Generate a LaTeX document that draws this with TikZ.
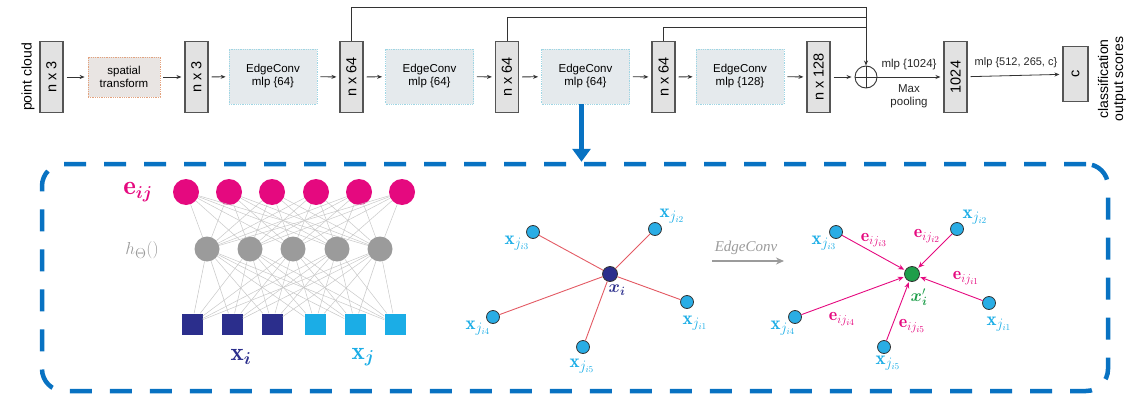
\documentclass[tikz,border=0pt]{standalone}
\usepackage{fontspec}
\setsansfont{Liberation Sans}
\newfontfamily\timesf{Liberation Serif}
\usepackage{graphicx}
\usepackage{bm}
\usetikzlibrary{arrows.meta}

\definecolor{tensorfill}{HTML}{E2E2E2}
\definecolor{tensorline}{HTML}{555555}
\definecolor{ecfill}{HTML}{E5EAED}
\definecolor{ecline}{HTML}{9FD6E4}
\definecolor{stfill}{HTML}{E9E5E3}
\definecolor{stline}{HTML}{E3A27E}
\definecolor{arrowgray}{HTML}{333333}
\definecolor{dashblue}{HTML}{0872C2}
\definecolor{epink}{HTML}{E5097F}
\definecolor{hgray}{HTML}{9B9B9B}
\definecolor{navy}{HTML}{2B2E8C}
\definecolor{cyanx}{HTML}{1BADE6}
\definecolor{nodecyan}{HTML}{2AADE5}
\definecolor{edgered}{HTML}{E35A64}
\definecolor{greenx}{HTML}{1E9E4A}
\definecolor{nnline}{HTML}{C8C8C8}

\begin{document}
\begin{tikzpicture}[x=1pt,y=-1pt,
  sans/.style={font=\sffamily\fontsize{11.5}{13}\selectfont},
  tensor/.style={font=\sffamily\fontsize{14.5}{15}\selectfont, draw=tensorline, fill=tensorfill, line width=1.1pt,
    minimum width=23pt, minimum height=71pt, inner sep=0pt},
  edgebox/.style={sans, draw=ecline, densely dotted, fill=ecfill, line width=0.8pt,
    minimum width=88pt, minimum height=55pt, align=center, inner sep=0pt},
  stbox/.style={sans, draw=stline, densely dotted, fill=stfill, line width=0.8pt,
    minimum width=72pt, minimum height=40pt, align=center, inner sep=0pt},
  arr/.style={-{Stealth[length=5pt,width=4pt]}, draw=arrowgray, line width=0.8pt,
    shorten <=3pt, shorten >=3pt},
  skip/.style={draw=arrowgray, line width=0.8pt},
  lbl/.style={sans, text=black!85},
  frame/.style={draw=dashblue, line width=4.5pt, dash pattern=on 22pt off 18pt,
    rounded corners=22pt, minimum width=1066pt, minimum height=227pt, inner sep=0pt},
  bluearr/.style={draw=dashblue, line width=5pt, -{Triangle[length=13pt,width=18pt]}},
  pinknode/.style={circle, fill=epink, minimum size=26pt, inner sep=0pt},
  graynode/.style={circle, fill=hgray, minimum size=25pt, inner sep=0pt},
  sq/.style={minimum size=21pt, inner sep=0pt},
  nnedge/.style={draw=nnline, line width=0.5pt},
  nbr/.style={circle, fill=nodecyan, draw=black!80, line width=0.8pt, minimum size=13pt, inner sep=0pt},
  ctr/.style={circle, draw=black!80, line width=0.8pt, minimum size=15pt, inner sep=0pt},
  rededge/.style={draw=edgered, line width=0.9pt},
  magarr/.style={draw=epink, line width=0.9pt, -{Stealth[length=6pt,width=5pt]}, shorten >=1pt},
  xlab/.style={text=cyanx, font=\fontsize{19}{19}\selectfont, inner sep=0pt},
  elab/.style={text=epink, font=\fontsize{18}{18}\selectfont, inner sep=0pt}
]
\useasboundingbox (0,0) rectangle (1129,396);

% ---------------- top pipeline ----------------
\node[font=\sffamily\fontsize{14}{15}\selectfont, rotate=90] (pclabel) at (28,77) {point cloud};
\node[tensor] (p3) at (51.5,77) {\rotatebox{90}{n x 3}};
\node[stbox] (st) at (124,77) {spatial\\transform};
\node[tensor] (t3) at (196.5,77) {\rotatebox{90}{n x 3}};
\node[edgebox] (ec1) at (273,76.5) {EdgeConv\\mlp \{64\}};
\node[tensor] (f1) at (351.5,77) {\rotatebox{90}{n x 64}};
\node[edgebox] (ec2) at (429.5,76.5) {EdgeConv\\mlp \{64\}};
\node[tensor] (f2) at (507,77) {\rotatebox{90}{n x 64}};
\node[edgebox] (ec3) at (585.5,76.5) {EdgeConv\\mlp \{64\}};
\node[tensor] (f3) at (663.5,77) {\rotatebox{90}{n x 64}};
\node[edgebox] (ec4) at (740,76.5) {EdgeConv\\mlp \{128\}};
\node[tensor] (f4) at (818.5,77) {\rotatebox{90}{n x 128}};
\node[circle, draw=arrowgray, line width=0.9pt, minimum size=22pt, inner sep=0pt] (sum) at (866,77) {};
\draw[skip] (sum.north) -- (sum.south);
\draw[skip] (sum.west) -- (sum.east);
\node[tensor] (g) at (955.5,77) {\rotatebox{90}{1024}};
\node[tensor, minimum width=25pt, minimum height=55pt] (out) at (1075.5,74) {\rotatebox{90}{c}};
\node[font=\sffamily\fontsize{14}{15}\selectfont, rotate=90, align=center] (cls) at (1112,79) {classification\\output scores};

\draw[arr] (p3) -- (st);
\draw[arr] (st) -- (t3);
\draw[arr] (t3) -- (ec1);
\draw[arr] (ec1) -- (f1);
\draw[arr] (f1) -- (ec2);
\draw[arr] (ec2) -- (f2);
\draw[arr] (f2) -- (ec3);
\draw[arr] (ec3) -- (f3);
\draw[arr] (f3) -- (ec4);
\draw[arr] (ec4) -- (f4);
\draw[arr] (f4) -- (sum);
\draw[arr, shorten <=0pt] (sum) -- (g);
\draw[arr] (g) -- (out);

\node[lbl] (mlp1) at (909,65) {mlp \{1024\}};
\node[lbl, align=center] (mp) at (909,96) {Max\\pooling};
\node[lbl, font=\sffamily\fontsize{11}{13}\selectfont] (mlp2) at (1016,63) {mlp \{512, 265, c\}};

% skip connections into the sum
\coordinate (k1) at (866,7);
\coordinate (k2) at (866,17);
\coordinate (k3) at (866,27);
\draw[skip] (f1.north) |- (k1);
\draw[skip] (f2.north) |- (k2);
\draw[skip] (f3.north) |- (k3);
\draw[arr, shorten <=0pt, shorten >=0pt] (k1) -- (sum.north);

% ---------------- detail panel ----------------
\node[frame] (panel) at (575,277.5) {};
\draw[bluearr] ([xshift=-4pt]ec3.south) -- ([xshift=-4pt]ec3.south |- panel.north);

% MLP sketch
\foreach \x [count=\i] in {186,229,272,316,359,402}
  \node[pinknode] (e\i) at (\x,192) {};
\foreach \x [count=\i] in {207,250,293,337,380}
  \node[graynode] (h\i) at (\x,249) {};
\foreach \x [count=\i] in {192,232,272}
  \node[sq, fill=navy] (s\i) at (\x,324) {};
\foreach \x [count=\i from 4] in {315,355,395}
  \node[sq, fill=cyanx] (s\i) at (\x,324) {};
\foreach \i in {1,...,6}
  \foreach \j in {1,...,5} {
    \draw[nnedge] (e\i) -- (h\j);
    \draw[nnedge] (h\j) -- (s\i);
  }
\node[text=epink, font=\fontsize{27}{27}\selectfont] (elbl) at (138,192) {$\mathbf{e}_{\bm{ij}}$};
\node[text=hgray, font=\fontsize{19}{19}\selectfont] (hlbl) at (142,250) {$h_{\Theta}()$};
\node[text=navy, font=\fontsize{25}{25}\selectfont] (xilbl) at (241,357) {$\mathbf{x}_{\bm{i}}$};
\node[text=cyanx, font=\fontsize{25}{25}\selectfont] (xjlbl) at (363,357) {$\mathbf{x}_{\bm{j}}$};

% neighbourhood graph
\node[ctr, fill=navy] (c1) at (610,274) {};
\node[nbr] (a1) at (687,302) {};
\node[nbr] (a2) at (655,229) {};
\node[nbr] (a3) at (533,232) {};
\node[nbr] (a4) at (493,317) {};
\node[nbr] (a5) at (583,347) {};
\foreach \k in {1,...,5}
  \draw[rededge] (c1) -- (a\k);
\node[xlab] (la1) at (695,323) {$\mathbf{x}_{j_{i1}}$};
\node[xlab] (la2) at (672,216) {$\mathbf{x}_{j_{i2}}$};
\node[xlab] (la3) at (517,243) {$\mathbf{x}_{j_{i3}}$};
\node[xlab] (la4) at (478,328) {$\mathbf{x}_{j_{i4}}$};
\node[xlab] (la5) at (582,366) {$\mathbf{x}_{j_{i5}}$};
\node[text=navy, font=\fontsize{18}{18}\selectfont, inner sep=0pt] (lc1) at (617,290) {$\bm{x}_{\bm{i}}$};

% EdgeConv operator
\node[text=hgray, font=\timesf\itshape\fontsize{15}{15}\selectfont] (oplbl) at (746,248) {EdgeConv};
\coordinate (opa) at (712,261);
\coordinate (opb) at (784,261);
\draw[draw=hgray, line width=1.3pt, -{Stealth[length=8pt,width=7pt]}] (opa) -- (opb);

% aggregated graph
\node[ctr, fill=greenx] (c2) at (912,274) {};
\node[nbr] (b1) at (989,303) {};
\node[nbr] (b2) at (957,229) {};
\node[nbr] (b3) at (836,232) {};
\node[nbr] (b4) at (795,317) {};
\node[nbr] (b5) at (884,347) {};
\foreach \k in {1,...,5}
  \draw[magarr] (b\k) -- (c2);
\node[xlab] (lb1) at (999,324) {$\mathbf{x}_{j_{i1}}$};
\node[xlab] (lb2) at (975,217) {$\mathbf{x}_{j_{i2}}$};
\node[xlab] (lb3) at (824,243) {$\mathbf{x}_{j_{i3}}$};
\node[xlab] (lb4) at (783,328) {$\mathbf{x}_{j_{i4}}$};
\node[xlab] (lb5) at (888,363) {$\mathbf{x}_{j_{i5}}$};
\node[elab] (le1) at (966,278) {$\mathbf{e}_{ij_{i1}}$};
\node[elab] (le2) at (927,236) {$\mathbf{e}_{ij_{i2}}$};
\node[elab] (le3) at (874,240) {$\mathbf{e}_{ij_{i3}}$};
\node[elab] (le4) at (842,319) {$\mathbf{e}_{ij_{i4}}$};
\node[elab] (le5) at (912,326) {$\mathbf{e}_{ij_{i5}}$};
\node[text=greenx, font=\fontsize{18}{18}\selectfont, inner sep=0pt] (lc2) at (919,297) {$\bm{x}'_{\bm{i}}$};
\end{tikzpicture}
\end{document}
